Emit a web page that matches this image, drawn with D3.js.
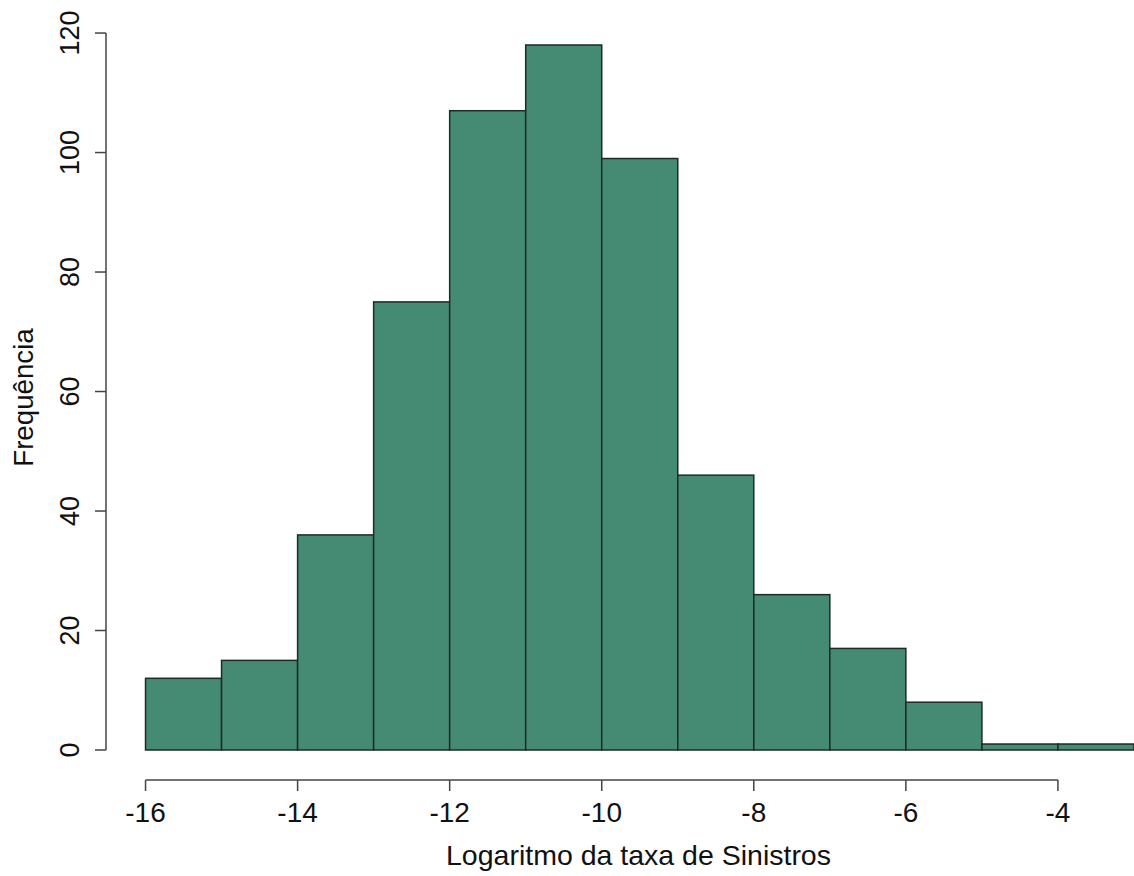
<!DOCTYPE html>
<html>
<head>
<meta charset="utf-8">
<script src="https://cdn.jsdelivr.net/npm/d3@7"></script>
<style>
  body { margin: 0; background: white; }
  svg text { font-family: "Liberation Sans", Arial, sans-serif; fill: #111; }
</style>
</head>
<body>
<script>
// histogram bins (lower edge) and counts
var binStarts = [-16, -15, -14, -13, -12, -11, -10, -9, -8, -7, -6, -5, -4];
var counts = [12, 15, 36, 75, 107, 118, 99, 46, 26, 17, 8, 1, 1];
var xTicks = [-16, -14, -12, -10, -8, -6, -4];
var yTicks = [0, 20, 40, 60, 80, 100, 120];
var xTitle = "Logaritmo da taxa de Sinistros";
var yTitle = "Frequência";

var width = 1134, height = 876;
var svg = d3.select("body").append("svg")
    .attr("width", width)
    .attr("height", height);

// plot region like R's default (4% extension)
var x = d3.scaleLinear().domain([-16.52, -2.48]).range([106, 1173.5]);
var y = d3.scaleLinear().domain([-4.72, 122.72]).range([778.2, 16.8]);

// bars
svg.selectAll("rect.bar")
    .data(binStarts)
    .enter()
    .append("rect")
    .classed("bar", true)
    .attr("x", d => x(d))
    .attr("width", d => x(d + 1) - x(d))
    .attr("y", (d, i) => y(counts[i]))
    .attr("height", (d, i) => y(0) - y(counts[i]))
    .style("fill", "#458B74")
    .style("stroke", "#1e2a25")
    .style("stroke-width", 1.5);

// x axis
var gx = svg.append("g").attr("transform", "translate(0,780)");
gx.append("line")
    .attr("x1", x(xTicks[0])).attr("x2", x(xTicks[xTicks.length - 1]))
    .attr("y1", 0).attr("y2", 0)
    .style("stroke", "#444").style("stroke-width", 1.5);
gx.selectAll("line.tick")
    .data(xTicks).enter().append("line")
    .attr("x1", d => x(d)).attr("x2", d => x(d))
    .attr("y1", 0).attr("y2", 11)
    .style("stroke", "#444").style("stroke-width", 1.5);
gx.selectAll("text")
    .data(xTicks).enter().append("text")
    .attr("x", d => x(d))
    .attr("y", 42)
    .attr("text-anchor", "middle")
    .style("font-size", "28px")
    .text(d => d);

// y axis
var gy = svg.append("g").attr("transform", "translate(106,0)");
gy.append("line")
    .attr("x1", 0).attr("x2", 0)
    .attr("y1", y(yTicks[0])).attr("y2", y(yTicks[yTicks.length - 1]))
    .style("stroke", "#444").style("stroke-width", 1.5);
gy.selectAll("line.tick")
    .data(yTicks).enter().append("line")
    .attr("x1", -11).attr("x2", 0)
    .attr("y1", d => y(d)).attr("y2", d => y(d))
    .style("stroke", "#444").style("stroke-width", 1.5);
gy.selectAll("text")
    .data(yTicks).enter().append("text")
    .attr("transform", d => "translate(-27," + y(d) + ") rotate(-90)")
    .attr("text-anchor", "middle")
    .style("font-size", "27px")
    .text(d => d);

// titles
svg.append("text")
    .attr("x", 638.5)
    .attr("y", 865)
    .attr("text-anchor", "middle")
    .style("font-size", "28.5px")
    .text(xTitle);

svg.append("text")
    .attr("transform", "translate(33," + (778.2 + 16.8) / 2 + ") rotate(-90)")
    .attr("text-anchor", "middle")
    .style("font-size", "27.7px")
    .text(yTitle);
</script>
</body>
</html>
